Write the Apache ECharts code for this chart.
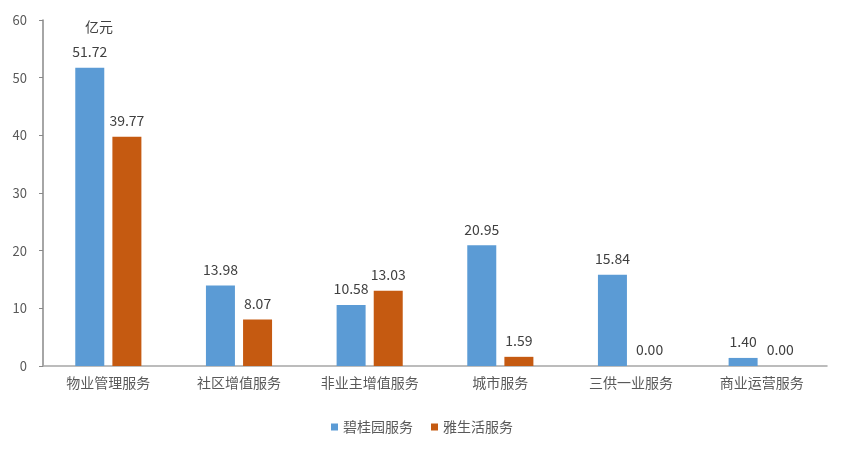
<!DOCTYPE html>
<html><head><meta charset="utf-8">
<script src="https://cdn.jsdelivr.net/npm/echarts@6/dist/echarts.min.js"></script>
<style>html,body{margin:0;padding:0;background:#fff}#c{width:844px;height:453px}</style>
</head><body><div id="c"></div>
<script>
var categories = ['物业管理服务','社区增值服务','非业主增值服务','城市服务','三供一业服务','商业运营服务'];
var seriesNames = ['碧桂园服务','雅生活服务'];
var bgyValues = [51.72, 13.98, 10.58, 20.95, 15.84, 1.40];
var yslValues = [39.77, 8.07, 13.03, 1.59, 0.00, 0.00];
var unitLabel = '亿元';
var font = '"Noto Sans CJK SC", "Noto Sans", sans-serif';
var chart = echarts.init(document.getElementById('c'));
var lbl = {show:true, position:'top', distance:9, color:'#404040', fontSize:14, fontFamily:font,
  formatter:function(p){return p.value.toFixed(2);}};
chart.setOption({
  animation:false,
  title:{text:unitLabel, left:80, top:15, textStyle:{fontSize:14, fontWeight:'normal', color:'#404040', fontFamily:font}},
  grid:{left:43, right:17, top:20, bottom:87, containLabel:false},
  legend:{bottom:14, left:'center', itemWidth:7, itemHeight:7, itemGap:18, icon:'rect',
    textStyle:{fontSize:14, color:'#595959', fontFamily:font}, data:seriesNames},
  xAxis:{type:'category', data:categories,
    axisLine:{lineStyle:{color:'#a6a6a6', width:1.5}}, axisTick:{show:false},
    axisLabel:{color:'#595959', fontSize:14, margin:10, fontFamily:font, interval:0}},
  yAxis:{type:'value', min:0, max:60, interval:10,
    axisLine:{show:true, lineStyle:{color:'#898989', width:1.5}},
    axisTick:{show:true, inside:false, length:4, lineStyle:{color:'#898989'}},
    splitLine:{show:false},
    axisLabel:{color:'#595959', fontSize:13, margin:16, fontFamily:font}},
  series:[
    {name:seriesNames[0], type:'bar', data:bgyValues, barWidth:29, barGap:'28%', itemStyle:{color:'#5B9BD5'}, label:lbl},
    {name:seriesNames[1], type:'bar', data:yslValues, barWidth:29, barGap:'28%', itemStyle:{color:'#C55A11'}, label:lbl}
  ]
});
</script></body></html>
